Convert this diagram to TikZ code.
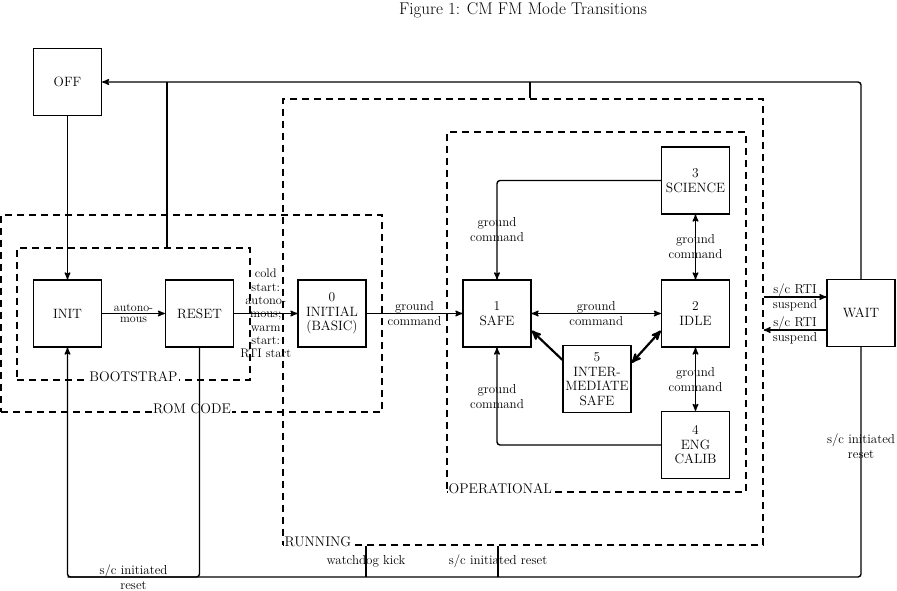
\documentclass[tikz,border=0pt]{standalone}
\usetikzlibrary{arrows}
\begin{document}
\begin{tikzpicture}[x=1pt,y=-1pt,>=stealth',line width=1.4pt]
  \tikzstyle{mode}=[rectangle,draw,minimum width=68pt,minimum height=67pt,align=center,inner sep=1pt,font=\fontsize{13.5}{14.5}\selectfont]
  \tikzstyle{group}=[rectangle,draw,dash pattern=on 7pt off 5pt,inner sep=0pt]
  \tikzstyle{grouplabel}=[fill=white,inner sep=1pt,font=\fontsize{14}{16}\selectfont]
  \tikzstyle{trans}=[align=center,inner sep=0pt,font=\fontsize{13}{15}\selectfont]
  \tikzstyle{corner}=[rounded corners=3pt]
  \useasboundingbox (0,0) rectangle (897,591);

    \node [font=\fontsize{17}{19}\selectfont] (title) at (523,10) {Figure 1: CM FM Mode Transitions};

    % dashed mode groups
    \node [group,minimum width=381pt,minimum height=197pt] (romcode) at (191.5,313.5) {};
    \node [group,minimum width=233pt,minimum height=132pt] (boot) at (133.5,314) {};
    \node [group,minimum width=480pt,minimum height=446pt] (running) at (523,322) {};
    \node [group,minimum width=299pt,minimum height=360pt] (oper) at (596.5,312) {};
    \node [grouplabel,anchor=base] at (133.5,381) {BOOTSTRAP};
    \node [grouplabel,anchor=base] at (192,413) {ROM CODE};
    \node [grouplabel,anchor=base west] at (283,546) {RUNNING};
    \node [grouplabel,anchor=base west] at (447,493) {OPERATIONAL};

    % modes
    \node [mode] (off)     at (67.5,82)    {OFF};
    \node [mode] (init)    at (67.5,313.5) {INIT};
    \node [mode] (reset)   at (199.5,313.5) {RESET};
    \node [mode] (initial) at (332,313.5)  {0\\INITIAL\\(BASIC)};
    \node [mode] (safe)    at (497,313.5)  {1\\SAFE};
    \node [mode] (idle)    at (695.5,313.5) {2\\IDLE};
    \node [mode] (science) at (695.5,180.5) {3\\SCIENCE};
    \node [mode] (engcal)  at (695.5,445)  {4\\ENG\\CALIB};
    \node [mode] (inter)   at (597,379)    {5\\INTER-\\MEDIATE\\SAFE};
    \node [mode] (wait)    at (861,313)    {WAIT};

    \coordinate (j1) at (167,82);
    \coordinate (j2) at (530,82);
    \coordinate (b1) at (366,577);
    \coordinate (b2) at (498,577);
    \coordinate (w1) at ([yshift=16pt]wait.west);
    \coordinate (w2) at ([yshift=-17pt]wait.west);

    % power off / reset loops
    \draw [->,corner] (wait.north) -- (wait.north |- off.east) -- (off.east);
    \draw [corner] (boot.north -| j1) -- (j1);
    \draw [corner] (running.north -| j2) -- (j2);
    \draw [->,corner] (wait.south) -- node [trans,pos=0.43] {s/c initiated\\reset} (wait.south |- b1)
        -- (init.south |- b1) -- (init.south);
    \draw [corner] (reset.south) -- (reset.south |- b1) -- node [trans] {s/c initiated\\reset} (init.south |- b1);
    \draw [corner] (running.south -| b1) -- node [trans] {watchdog kick} (b1);
    \draw [corner] (running.south -| b2) -- node [trans] {s/c initiated reset} (b2);

    % boot sequence
    \draw [->] (off.south) -- (init.north);
    \draw [->] (init.east) -- node [trans,font=\fontsize{12}{11.5}\selectfont] {autono-\\mous} (reset.west);
    \draw [->] (reset.east) -- node [trans,font=\fontsize{12.5}{13.3}\selectfont]
        {cold\\start:\\autono-\\mous;\\warm\\start:\\RTI start} (initial.west);
    \draw [->] (initial.east) -- node [trans] {ground\\command} (safe.west);

    % operational modes
    \draw [<->] (safe.east) -- node [trans] {ground\\command} (idle.west);
    \draw [<->] (science.south) -- node [trans] {ground\\command} (idle.north);
    \draw [<->] (idle.south) -- node [trans] {ground\\command} (engcal.north);
    \draw [->,corner] (science.west) -- (science.west -| safe.north) -- node [trans] {ground\\command} (safe.north);
    \draw [->,corner] (engcal.west) -- (engcal.west -| safe.south) -- node [trans] {ground\\command} (safe.south);
    \draw [->,line width=2.2pt] ([yshift=-15pt]inter.north west) -- ([yshift=17pt]safe.south east);
    \draw [<->,line width=2.2pt] ([yshift=-18pt]inter.north east) -- ([yshift=17pt]idle.south west);

    % suspend
    \draw [->] (running.east |- w1) -- node [trans] {s/c RTI\\suspend} (w1);
    \draw [->] (w2) -- node [trans] {s/c RTI\\suspend} (running.east |- w2);
\end{tikzpicture}
\end{document}
